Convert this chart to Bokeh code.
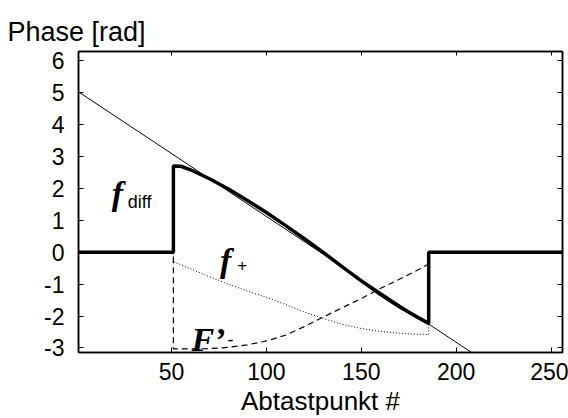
import math
from bokeh.plotting import figure
from bokeh.models import Range1d, LinearAxis, FixedTicker, Label, Title
from bokeh.embed import file_html
from bokeh.resources import INLINE

# ---- data ----
x_ticks = [50, 100, 150, 200, 250]
y_ticks = [-3, -2, -1, 0, 1, 2, 3, 4, 5, 6]

fit_x = [1, 256]
fit_y = [5.02, -5.03]

diff_x = [1, 51, 51, 55, 60, 70, 80, 90, 100, 110, 120, 130, 140, 150, 160, 170, 180, 185.5, 185.5, 256]
diff_y = [0, 0, 2.70, 2.69, 2.58, 2.30, 1.98, 1.62, 1.24, 0.84, 0.42, -0.01, -0.46, -0.90, -1.32, -1.71, -2.05, -2.23, 0, 0]

plus_x = [1, 51, 51, 60, 70, 80, 90, 100, 110, 120, 130, 140, 150, 160, 170, 180, 185.5, 185.5, 256]
plus_y = [0, 0, -0.30, -0.52, -0.77, -1.00, -1.22, -1.41, -1.64, -1.87, -2.08, -2.26, -2.39, -2.48, -2.54, -2.57, -2.58, 0, 0]

minus_x = [1, 51, 51, 60, 70, 80, 90, 100, 110, 120, 130, 140, 150, 160, 170, 180, 185.5, 185.5, 256]
minus_y = [0, 0, -3.03, -3.03, -3.02, -2.98, -2.90, -2.78, -2.60, -2.33, -2.03, -1.74, -1.45, -1.14, -0.85, -0.55, -0.37, 0, 0]

SANS = "Liberation Sans"
SERIF = "Liberation Serif"

p = figure(width=568, height=418,
           x_range=Range1d(1, 256), y_range=Range1d(-math.pi, 2 * math.pi),
           output_backend="svg", toolbar_location=None,
           min_border_left=78, min_border_right=6, min_border_top=51, min_border_bottom=64)
p.grid.visible = False
p.outline_line_color = "black"
p.outline_line_width = 1.5
p.background_fill_color = "white"
p.border_fill_color = "white"

def style_axis(ax, ticks, labels=True):
    ax.ticker = FixedTicker(ticks=ticks)
    ax.major_tick_in = 5
    ax.major_tick_out = 0
    ax.minor_tick_in = 0
    ax.minor_tick_out = 0
    ax.axis_line_width = 1.5
    ax.major_tick_line_width = 1
    ax.major_label_text_font = SANS
    ax.major_label_text_color = "black"
    ax.axis_label_text_font = SANS
    ax.axis_label_text_font_style = "normal"
    ax.axis_label_text_color = "black"
    ax.major_label_text_font_size = "23px"
    if labels:
        ax.major_label_overrides = {t: str(t) for t in ticks}
    else:
        ax.major_label_overrides = {t: "" for t in ticks}
        ax.major_label_standoff = 0

style_axis(p.xaxis[0], x_ticks)
style_axis(p.yaxis[0], y_ticks)
p.xaxis[0].major_label_standoff = 10
p.xaxis[0].major_label_text_line_height = 0.6
p.yaxis[0].major_label_standoff = 14
p.xaxis[0].axis_label = "Abtastpunkt #"
p.xaxis[0].axis_label_text_font_size = "26px"
p.xaxis[0].axis_label_text_line_height = 0.5
p.xaxis[0].axis_label_standoff = 3

top_ax = LinearAxis()
style_axis(top_ax, x_ticks, labels=False)
top_ax.major_tick_in = 4
p.add_layout(top_ax, "above")
right_ax = LinearAxis()
style_axis(right_ax, y_ticks, labels=False)
p.add_layout(right_ax, "right")

title = Title(text="Phase [rad]", align="left", vertical_align="bottom",
              offset=-71, standoff=10,
              text_font=SANS, text_font_size="27px", text_font_style="normal",
              text_color="black")
try:
    title.padding = (0, 0, 7, 0)
except Exception:
    pass
p.add_layout(title, "above")

# ---- curves ----
p.line(plus_x, plus_y, line_color="black", line_width=1, line_dash="1 2")
p.line(minus_x, minus_y, line_color="black", line_width=1.2, line_dash="6 4")
p.line(fit_x, fit_y, line_color="black", line_width=1)
p.line(diff_x, diff_y, line_color="black", line_width=3.5)

# ---- curve annotations ----
def lab(x, y, t, font, size, style, baseline="alphabetic"):
    p.add_layout(Label(x=x, y=y, text=t, text_font=font, text_font_size=size,
                       text_font_style=style, text_baseline=baseline, text_color="black"))

lab(18.5, 1.85, "f", SERIF, "34px", "bold italic")
lab(27.0, 1.57, "diff", SANS, "18px", "normal")
lab(75.5, -0.26, "f", SERIF, "34px", "bold italic")
lab(84.6, -0.41, "+", SANS, "17px", "normal", "middle")
lab(60.5, -2.73, "F’", SERIF, "34px", "bold italic")
lab(79.5, -2.73, "-", SANS, "18px", "normal", "middle")

open("out.html", "w").write(file_html(p, INLINE))
